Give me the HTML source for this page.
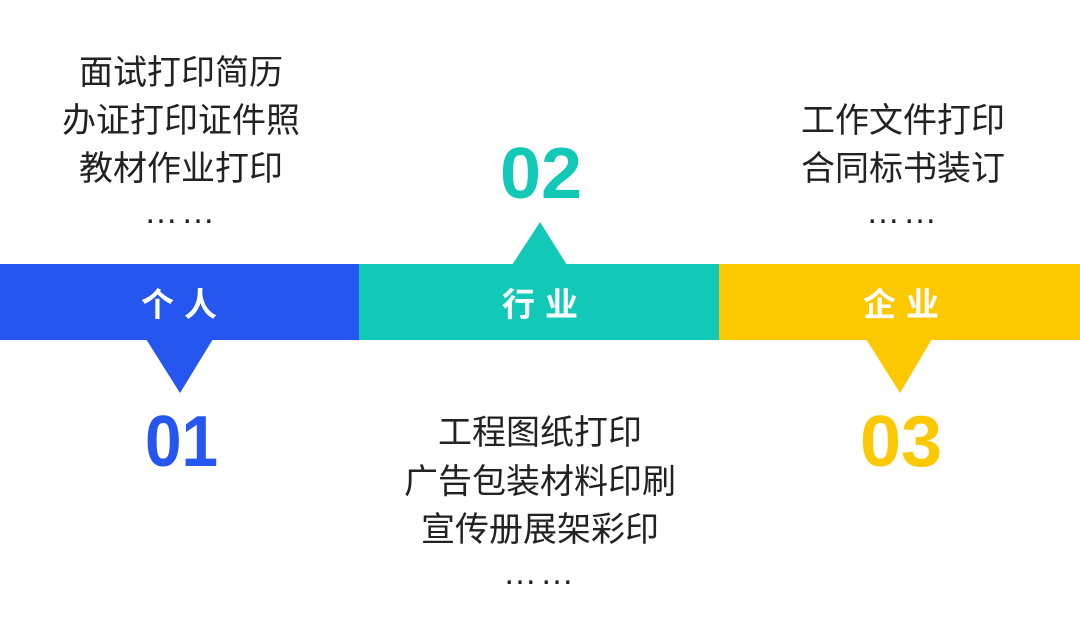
<!DOCTYPE html>
<html><head><meta charset="utf-8"><style>
html,body{margin:0;padding:0;background:#fff;}
body{width:1080px;height:631px;overflow:hidden;position:relative;}
svg{position:absolute;left:0;top:0;}
</style></head><body>
<svg width="1080" height="631" viewBox="0 0 1080 631" xmlns="http://www.w3.org/2000/svg">
<rect x="0" y="264" width="360" height="76" fill="#2656f0"/>
<rect x="359" y="264" width="361" height="76" fill="#12c9b8"/>
<rect x="719" y="264" width="361" height="76" fill="#fcc800"/>
<polygon points="146,339 213,339 180,393" fill="#2656f0"/>
<polygon points="512,265 567,265 540,222" fill="#12c9b8"/>
<polygon points="866,339 932,339 900,393" fill="#fcc800"/>
<g font-family="Liberation Sans, Noto Sans CJK SC, sans-serif" font-size="33" fill="#fff" font-weight="bold" text-anchor="middle">
<text x="184" y="316" letter-spacing="10">个人</text>
<text x="545" y="316" letter-spacing="10">行业</text>
<text x="906" y="316" letter-spacing="10">企业</text>
</g>
<g font-family="Liberation Sans, sans-serif" font-weight="bold" font-size="72">
<text x="145" y="466" textLength="73" lengthAdjust="spacingAndGlyphs" fill="#2656f0">01</text>
<text x="500" y="198" textLength="82" lengthAdjust="spacingAndGlyphs" fill="#12c9b8">02</text>
<text x="860" y="466" textLength="82" lengthAdjust="spacingAndGlyphs" fill="#fcc800">03</text>
</g>
<g font-family="Liberation Sans, Noto Sans CJK SC, sans-serif" font-size="34" fill="#222" text-anchor="middle">
<text x="181" y="84">面试打印简历</text>
<text x="181" y="132">办证打印证件照</text>
<text x="181" y="180">教材作业打印</text>
<text x="181" y="223" letter-spacing="3">……</text>
<text x="540" y="444">工程图纸打印</text>
<text x="540" y="493">广告包装材料印刷</text>
<text x="540" y="541">宣传册展架彩印</text>
<text x="540" y="584" letter-spacing="3">……</text>
<text x="903" y="132">工作文件打印</text>
<text x="903" y="180">合同标书装订</text>
<text x="903" y="223" letter-spacing="3">……</text>
</g>
</svg>
</body></html>
